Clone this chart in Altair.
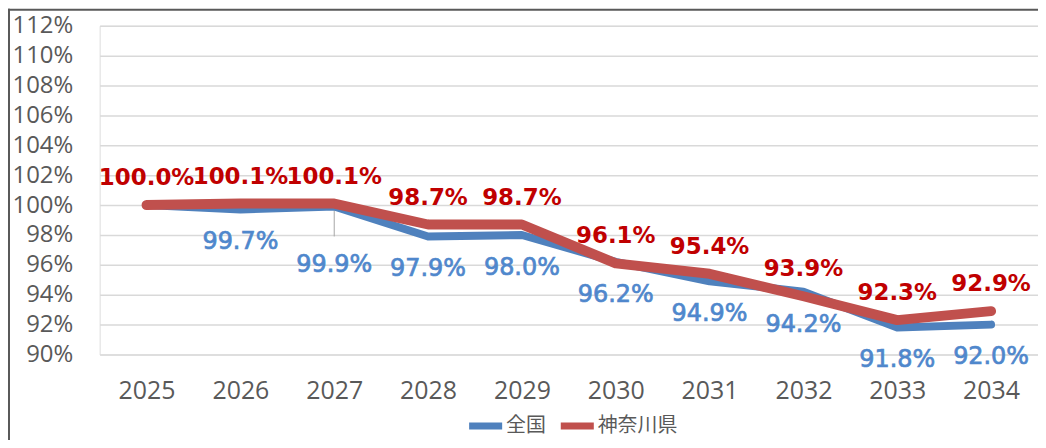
import altair as alt
import pandas as pd

years = [2025, 2026, 2027, 2028, 2029, 2030, 2031, 2032, 2033, 2034]
national = [100.0, 99.7, 99.9, 97.9, 98.0, 96.2, 94.9, 94.2, 91.8, 92.0]
kanagawa = [100.0, 100.1, 100.1, 98.7, 98.7, 96.1, 95.4, 93.9, 92.3, 92.9]
series_names = ["全国", "神奈川県"]
y_ticks = [90, 92, 94, 96, 98, 100, 102, 104, 106, 108, 110, 112]

BLUE = "#4F81BD"
RED = "#C0504D"
BLUE_TXT = "#4F87CC"
RED_TXT = "#C00000"
GRAY = "#595959"

rows = []
for i, yr in enumerate(years):
    rows.append({"year": yr, "series": series_names[0], "value": national[i]})
for i, yr in enumerate(years):
    rows.append({"year": yr, "series": series_names[1], "value": kanagawa[i]})
df = pd.DataFrame(rows)

x = alt.X(
    "year:O",
    scale=alt.Scale(type="point", padding=0.5),
    axis=alt.Axis(
        title=None, labelAngle=0, domain=False, ticks=False, grid=False,
        labelFont="Open Sans", labelFontSize=25, labelColor=GRAY, labelPadding=24,
    ),
)
y = alt.Y(
    "value:Q",
    scale=alt.Scale(domain=[90, 112], nice=False, zero=False),
    axis=alt.Axis(
        values=y_ticks, title=None, domain=False, ticks=False,
        labelExpr="datum.value + '%'", labelFont="Open Sans", labelFontSize=24,
        labelColor=GRAY, labelPadding=27, gridColor="#D9D9D9", gridWidth=1.5,
    ),
)
color = alt.Color(
    "series:N",
    scale=alt.Scale(domain=series_names, range=[BLUE, RED]),
    legend=alt.Legend(
        title=None, orient="none", legendX=367, legendY=381, direction="horizontal",
        symbolType="stroke", symbolSize=1100, symbolStrokeWidth=7,
        labelFont="Noto Sans CJK JP", labelFontSize=20, labelColor=GRAY,
        labelOffset=0, columnPadding=0, padding=0,
    ),
)

base = alt.Chart(df).transform_calculate(
    label="format(datum.value, '.1f') + '%'"
)

line_blue = base.transform_filter(f"datum.series == '{series_names[0]}'").mark_line(
    strokeCap="round", strokeJoin="round", strokeWidth=8
).encode(x=x, y=y, color=color)

line_red = base.transform_filter(f"datum.series == '{series_names[1]}'").mark_line(
    strokeCap="round", strokeJoin="round", strokeWidth=10
).encode(x=x, y=y, color=color)

red_labels = base.transform_filter(f"datum.series == '{series_names[1]}'").mark_text(
    font="DejaVu Sans", fontSize=23, fontWeight="bold", color=RED_TXT, dy=-27
).encode(x=x, y=y, text="label:N")

blue_labels = base.transform_filter(
    f"datum.series == '{series_names[0]}' && datum.year > 2025 && datum.year != 2027"
).mark_text(
    font="DejaVu Sans", fontSize=24, color=BLUE_TXT, stroke=BLUE_TXT,
    strokeWidth=0.7, dy=33
).encode(x=x, y=y, text="label:N")

blue_moved = base.transform_filter(
    f"datum.series == '{series_names[0]}' && datum.year == 2027"
).mark_text(
    font="DejaVu Sans", fontSize=24, color=BLUE_TXT, stroke=BLUE_TXT,
    strokeWidth=0.7, dy=59
).encode(x=x, y=y, text="label:N")

leader = base.transform_filter(
    f"datum.series == '{series_names[0]}' && datum.year == 2027"
).transform_calculate(v2="datum.value - 2.0").mark_rule(
    color="#A6A6A6", strokeWidth=1
).encode(x=x, y=y, y2="v2:Q")

frame_df = pd.DataFrame({"k": [0]})
frame_left = alt.Chart(frame_df).mark_rule(color=GRAY, strokeWidth=2).encode(
    x=alt.value(-91), y=alt.value(-17), y2=alt.value(420)
)
frame_top = alt.Chart(frame_df).mark_rule(color=GRAY, strokeWidth=2).encode(
    x=alt.value(-92), x2=alt.value(950), y=alt.value(-16)
)

chart = alt.layer(
    frame_left, frame_top, leader, line_blue, line_red, red_labels, blue_labels, blue_moved
).properties(
    width=942, height=330,
    autosize=alt.AutoSizeParams(type="none"),
    padding={"left": 92, "top": 17, "right": 0, "bottom": 85},
).configure_view(stroke=None).configure(background="white")

chart.save("out.html", embed_options={"renderer": "svg", "actions": False})
